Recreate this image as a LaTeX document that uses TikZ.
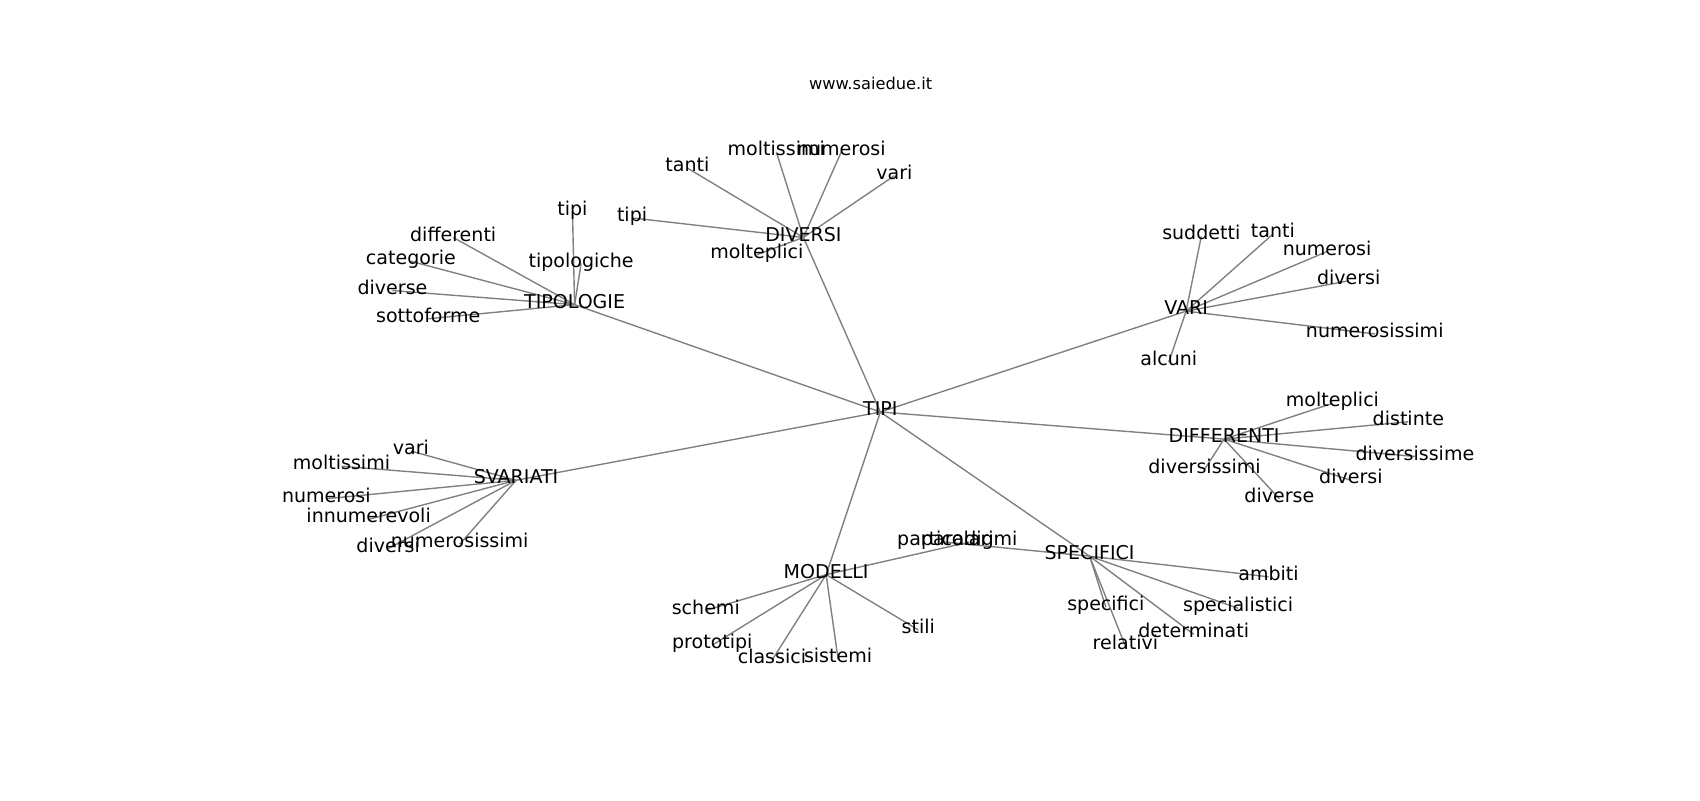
\documentclass[tikz,border=0pt]{standalone}
\usepackage{fontspec}
\setmainfont{DejaVu Sans}
\usetikzlibrary{backgrounds}

\begin{document}
\begin{tikzpicture}[x=0.7806pt,y=-0.7806pt]
						\tikzstyle{word}=[inner sep=0pt,text height=0.76em,text depth=0.24em,font=\fontsize{13.7}{16}\selectfont]
						\tikzstyle{link}=[draw=gray,line width=1pt]
						\useasboundingbox (0,-3) rectangle (1568,735);
						\node[word,font=\fontsize{11.7}{14}\selectfont] (title) at (803,76) {www.saiedue.it};
						\node[word] (tipi) at (812,377) {TIPI};
						% DIVERSI
						\node[word] (div) at (741,216) {DIVERSI};
						\node[word] (div1) at (634,152) {tanti};
						\node[word] (div2) at (716,137) {moltissimi};
						\node[word] (div3) at (776,137) {numerosi};
						\node[word] (div4) at (825,159) {vari};
						\node[word] (div5) at (583,198) {tipi};
						\node[word] (div6) at (698,232) {molteplici};
						% TIPOLOGIE
						\node[word] (tip) at (530,278) {TIPOLOGIE};
						\node[word] (tip1) at (528,192) {tipi};
						\node[word] (tip2) at (418,216) {differenti};
						\node[word] (tip3) at (379,238) {categorie};
						\node[word] (tip4) at (362,265) {diverse};
						\node[word] (tip5) at (395,291) {sottoforme};
						\node[word] (tip6) at (536,240) {tipologiche};
						% VARI
						\node[word] (var) at (1094,284) {VARI};
						\node[word] (var1) at (1108,215) {suddetti};
						\node[word] (var2) at (1174,213) {tanti};
						\node[word] (var3) at (1224,229) {numerosi};
						\node[word] (var4) at (1244,256) {diversi};
						\node[word] (var5) at (1268,305) {numerosissimi};
						\node[word] (var6) at (1078,331) {alcuni};
						% DIFFERENTI
						\node[word] (dif) at (1129,402) {DIFFERENTI};
						\node[word] (dif1) at (1229,369) {molteplici};
						\node[word] (dif2) at (1299,386) {distinte};
						\node[word] (dif3) at (1305,418) {diversissime};
						\node[word] (dif4) at (1246,440) {diversi};
						\node[word] (dif5) at (1180,457) {diverse};
						\node[word] (dif6) at (1111,430) {diversissimi};
						% SVARIATI
						\node[word] (sva) at (476,440) {SVARIATI};
						\node[word] (sva1) at (379,413) {vari};
						\node[word] (sva2) at (315,427) {moltissimi};
						\node[word] (sva3) at (301,457) {numerosi};
						\node[word] (sva4) at (340,476) {innumerevoli};
						\node[word] (sva5) at (358,503) {diversi};
						\node[word] (sva6) at (424,499) {numerosissimi};
						% MODELLI
						\node[word] (mod) at (762,527) {MODELLI};
						\node[word] (mod1) at (894,497) {paradigmi};
						\node[word] (mod2) at (651,560) {schemi};
						\node[word] (mod3) at (657,592) {prototipi};
						\node[word] (mod4) at (712,606) {classici};
						\node[word] (mod5) at (773,605) {sistemi};
						\node[word] (mod6) at (847,578) {stili};
						% SPECIFICI
						\node[word] (spe) at (1005,510) {SPECIFICI};
						\node[word] (spe1) at (872,497) {particolari};
						\node[word] (spe2) at (1170,529) {ambiti};
						\node[word] (spe3) at (1142,558) {specialistici};
						\node[word] (spe4) at (1101,582) {determinati};
						\node[word] (spe5) at (1020,557) {specifici};
						\node[word] (spe6) at (1038,593) {relativi};
						\begin{scope}[on background layer]
						\draw[link] (tipi.center) -- (div.center);
						\draw[link] (tipi.center) -- (tip.center);
						\draw[link] (tipi.center) -- (var.center);
						\draw[link] (tipi.center) -- (dif.center);
						\draw[link] (tipi.center) -- (sva.center);
						\draw[link] (tipi.center) -- (mod.center);
						\draw[link] (tipi.center) -- (spe.center);
						\draw[link] (div.center) -- (div1.center);
						\draw[link] (div.center) -- (div2.center);
						\draw[link] (div.center) -- (div3.center);
						\draw[link] (div.center) -- (div4.center);
						\draw[link] (div.center) -- (div5.center);
						\draw[link] (div.center) -- (div6.center);
						\draw[link] (tip.center) -- (tip1.center);
						\draw[link] (tip.center) -- (tip2.center);
						\draw[link] (tip.center) -- (tip3.center);
						\draw[link] (tip.center) -- (tip4.center);
						\draw[link] (tip.center) -- (tip5.center);
						\draw[link] (tip.center) -- (tip6.center);
						\draw[link] (var.center) -- (var1.center);
						\draw[link] (var.center) -- (var2.center);
						\draw[link] (var.center) -- (var3.center);
						\draw[link] (var.center) -- (var4.center);
						\draw[link] (var.center) -- (var5.center);
						\draw[link] (var.center) -- (var6.center);
						\draw[link] (dif.center) -- (dif1.center);
						\draw[link] (dif.center) -- (dif2.center);
						\draw[link] (dif.center) -- (dif3.center);
						\draw[link] (dif.center) -- (dif4.center);
						\draw[link] (dif.center) -- (dif5.center);
						\draw[link] (dif.center) -- (dif6.center);
						\draw[link] (sva.center) -- (sva1.center);
						\draw[link] (sva.center) -- (sva2.center);
						\draw[link] (sva.center) -- (sva3.center);
						\draw[link] (sva.center) -- (sva4.center);
						\draw[link] (sva.center) -- (sva5.center);
						\draw[link] (sva.center) -- (sva6.center);
						\draw[link] (mod.center) -- (mod1.center);
						\draw[link] (mod.center) -- (mod2.center);
						\draw[link] (mod.center) -- (mod3.center);
						\draw[link] (mod.center) -- (mod4.center);
						\draw[link] (mod.center) -- (mod5.center);
						\draw[link] (mod.center) -- (mod6.center);
						\draw[link] (spe.center) -- (spe1.center);
						\draw[link] (spe.center) -- (spe2.center);
						\draw[link] (spe.center) -- (spe3.center);
						\draw[link] (spe.center) -- (spe4.center);
						\draw[link] (spe.center) -- (spe5.center);
						\draw[link] (spe.center) -- (spe6.center);
						\end{scope}
						\end{tikzpicture}
\end{document}
